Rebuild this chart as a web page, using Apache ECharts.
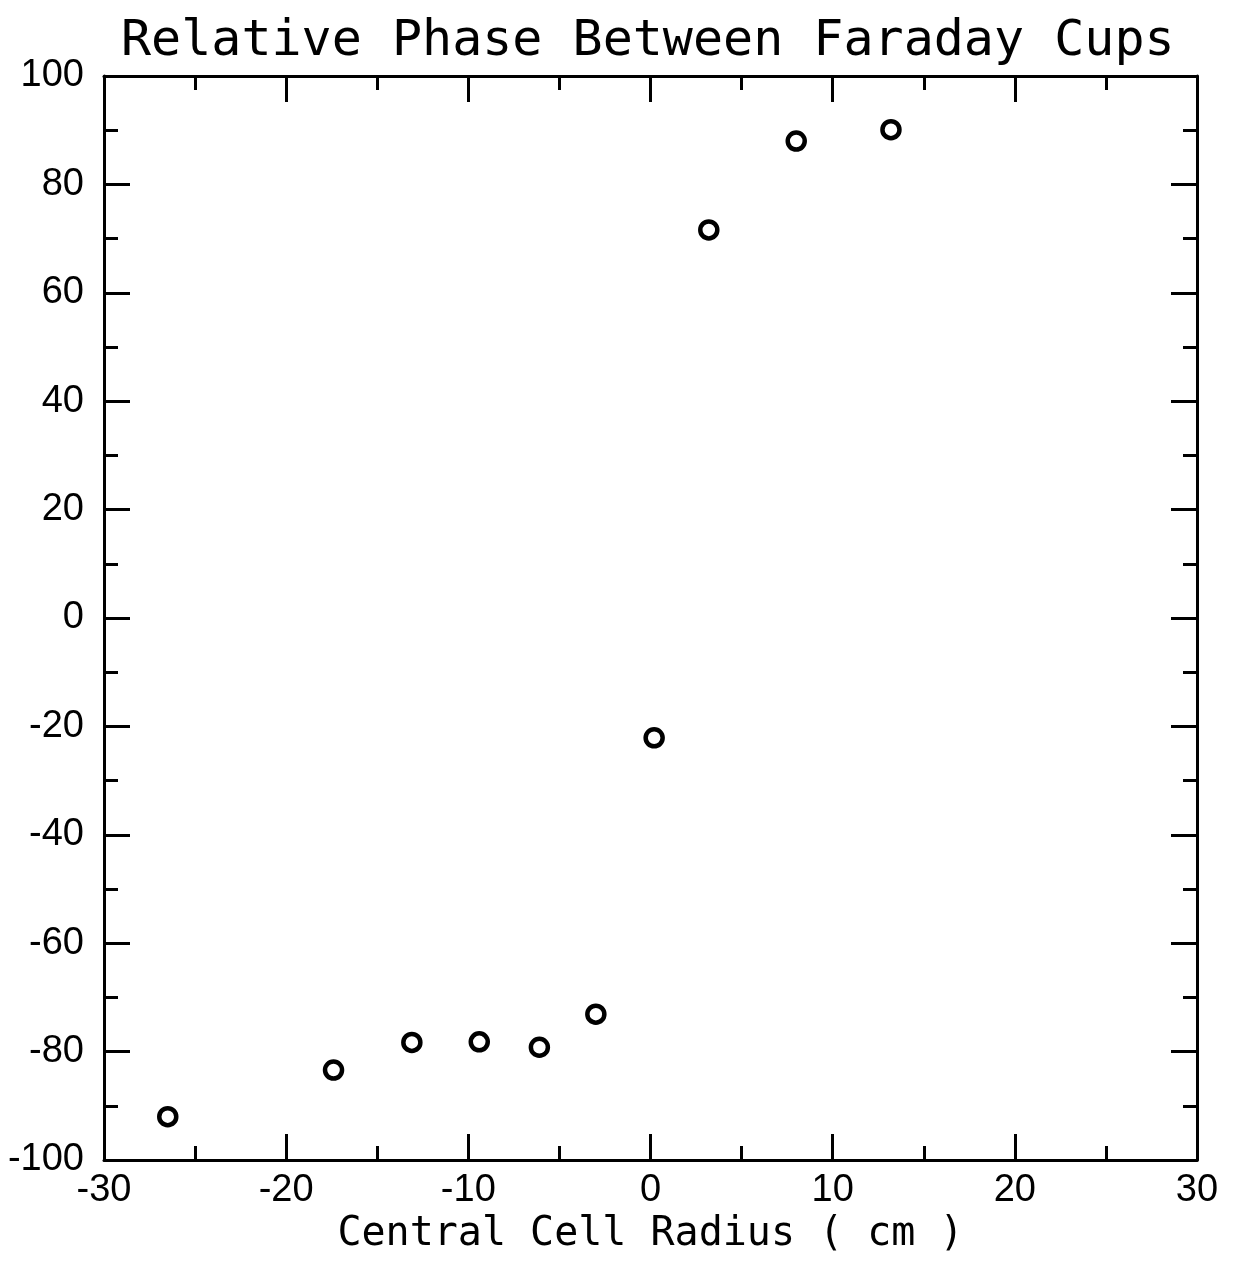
<!DOCTYPE html>
<html>
<head>
<meta charset="utf-8">
<script src="https://cdn.jsdelivr.net/npm/echarts@6/dist/echarts.min.js"></script>
<style>html,body{margin:0;padding:0;background:#fff;}#c{width:1241px;height:1262px;}</style>
</head>
<body>
<div id="c"></div>
<script>
const titleText = "Relative Phase Between Faraday Cups";
const xName = "Central Cell Radius ( cm )";
const radius = [-26.5, -17.4, -13.1, -9.4, -6.1, -3.0, 0.2, 3.2, 8.0, 13.2];
const phase = [-92.0, -83.4, -78.3, -78.2, -79.2, -73.1, -22.1, 71.6, 88.0, 90.1];
const xMin = -30, xMax = 30, xStep = 10;
const yMin = -100, yMax = 100, yStep = 20;

const chart = echarts.init(document.getElementById('c'), null, {renderer: 'canvas'});
const lineStyle = {color: '#000', width: 3};
const labelFont = {color: '#000', fontFamily: 'Liberation Sans', fontSize: 38};
function xAxisCfg(pos, showLabels) {
  return {
    type: 'value', position: pos, min: xMin, max: xMax, interval: xStep,
    axisLine: {show: true, onZero: false, lineStyle: lineStyle},
    axisTick: {show: true, inside: true, length: 26, lineStyle: lineStyle},
    minorTick: {show: true, splitNumber: 2, length: 14, lineStyle: {color: '#000', width: 3}},
    splitLine: {show: false}, minorSplitLine: {show: false},
    axisLabel: Object.assign({show: showLabels, margin: 12}, labelFont),
    name: showLabels ? xName : '', nameLocation: 'middle', nameGap: 52,
    nameTextStyle: {color: '#000', fontFamily: 'DejaVu Sans Mono', fontSize: 40}
  };
}
function yAxisCfg(pos, showLabels) {
  return {
    type: 'value', position: pos, min: yMin, max: yMax, interval: yStep,
    axisLine: {show: true, onZero: false, lineStyle: lineStyle},
    axisTick: {show: true, inside: true, length: 26, lineStyle: lineStyle},
    minorTick: {show: true, splitNumber: 2, length: 14, lineStyle: {color: '#000', width: 3}},
    splitLine: {show: false}, minorSplitLine: {show: false},
    axisLabel: Object.assign({show: showLabels, margin: 20}, labelFont)
  };
}
chart.setOption({
  backgroundColor: '#fff',
  animation: false,
  title: {
    text: titleText, left: 116, top: 12,
    textStyle: {color: '#000', fontFamily: 'DejaVu Sans Mono', fontSize: 50, fontWeight: 'normal'}
  },
  grid: {left: 104, right: 44, top: 76, bottom: 102, containLabel: false},
  xAxis: [xAxisCfg('bottom', true), xAxisCfg('top', false)],
  yAxis: [yAxisCfg('left', true), yAxisCfg('right', false)],
  series: [{
    type: 'scatter', xAxisIndex: 0, yAxisIndex: 0,
    data: radius.map((r, i) => [r, phase[i]]),
    symbol: 'circle', symbolSize: 17,
    itemStyle: {color: '#fff', borderColor: '#000', borderWidth: 4.5, opacity: 1}
  }]
});
</script>
</body>
</html>
